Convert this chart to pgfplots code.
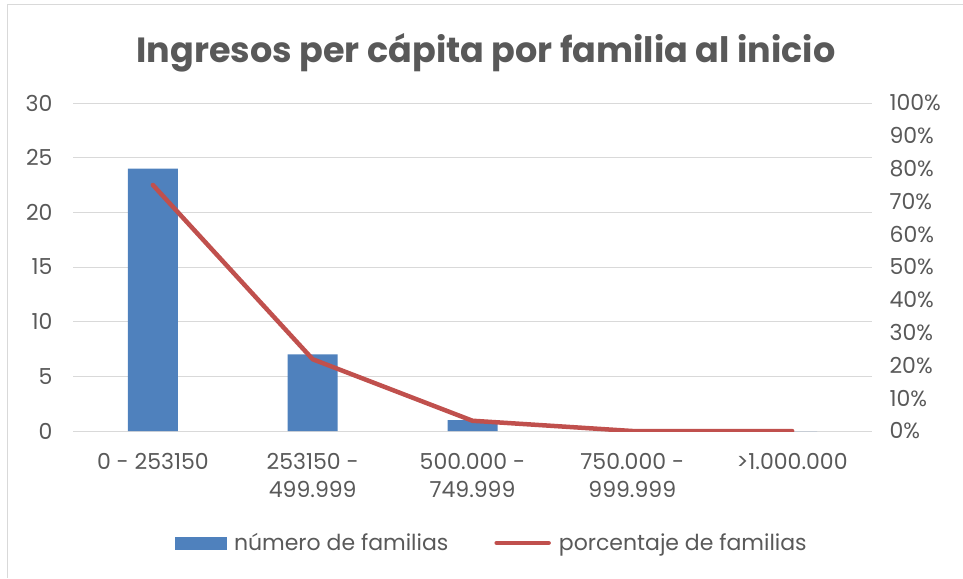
\documentclass[border=0pt]{standalone}
\usepackage{fontspec}
\setmainfont{Poppins}
\usepackage{pgfplots}
\pgfplotsset{compat=1.18}
\definecolor{barblue}{HTML}{4F81BD}
\definecolor{linered}{HTML}{C0504D}
\definecolor{txt}{HTML}{595959}
\definecolor{gridc}{HTML}{D9D9D9}
\begin{document}
\begin{tikzpicture}
\path[use as bounding box] (0pt,0pt) rectangle (963pt,-578pt);
\draw[gridc, line width=1pt] (7pt,-578pt) -- (7pt,-5pt) -- (963pt,-5pt);
\node[font=\fontsize{35}{38}\selectfont\bfseries, text=txt] at (486pt,-53pt) {Ingresos per cápita por familia al inicio};
\begin{axis}[
  at={(73pt,-431pt)}, anchor=south west,
  scale only axis, width=799pt, height=328pt,
  xmin=-0.5, xmax=4.5, ymin=0, ymax=30,
  ytick={0,5,...,30},
  xtick={0,1,2,3,4},
  xticklabels={0 - 253150, {253150 -\\499.999}, {500.000 -\\749.999}, {750.000 -\\999.999}, >1.000.000},
  xticklabel style={align=center, text=txt, font=\fontsize{22}{28}\selectfont},
  yticklabel style={text=txt, font=\fontsize{22}{24}\selectfont},
  /pgf/number format/assume math mode=true,
  axis line style={draw=none},
  axis x line*=bottom,
  x axis line style={draw=gridc, line width=1pt},
  major tick length=0pt,
  ymajorgrids, grid style={gridc, line width=1pt},
  axis y line*=left,
  yticklabel shift=17pt,
  xticklabel shift=19pt,
]
\addplot[ybar, bar width=50pt, fill=barblue, draw=none] coordinates {(0,24) (1,7) (2,1) (3,0) (4,0)};
\end{axis}
\begin{axis}[
  at={(73pt,-431pt)}, anchor=south west,
  scale only axis, width=799pt, height=328pt,
  xmin=-0.5, xmax=4.5, ymin=0, ymax=100,
  ytick={0,10,...,100},
  yticklabel={\pgfmathprintnumber{\tick}\%},
  yticklabel style={text=txt, font=\fontsize{22}{24}\selectfont},
  /pgf/number format/assume math mode=true,
  axis x line=none,
  axis y line*=right,
  y axis line style={draw=none},
  major tick length=0pt,
  yticklabel shift=14pt,
  legend columns=2,
  legend style={at={(0.524,-0.341)}, anchor=center, draw=none, fill=none,
    font=\fontsize{22}{24}\selectfont, text=txt,
    /tikz/every odd column/.append style={column sep=6pt},
    /tikz/every even column/.append style={column sep=44pt}},
]
\addlegendimage{legend image code/.code={\fill[barblue] (0pt,-6pt) rectangle (51pt,6pt);}}
\addlegendentry{número de familias}
\addplot[linered, line width=4.5pt, line cap=round, line join=round, mark=none,
  legend image code/.code={\draw[linered, line width=4.5pt, line cap=round] (0pt,0pt) -- (52pt,0pt);}]
  coordinates {(0,75) (1,21.875) (2,3.125) (3,0) (4,0)};
\addlegendentry{porcentaje de familias}
\end{axis}
\end{tikzpicture}
\end{document}
